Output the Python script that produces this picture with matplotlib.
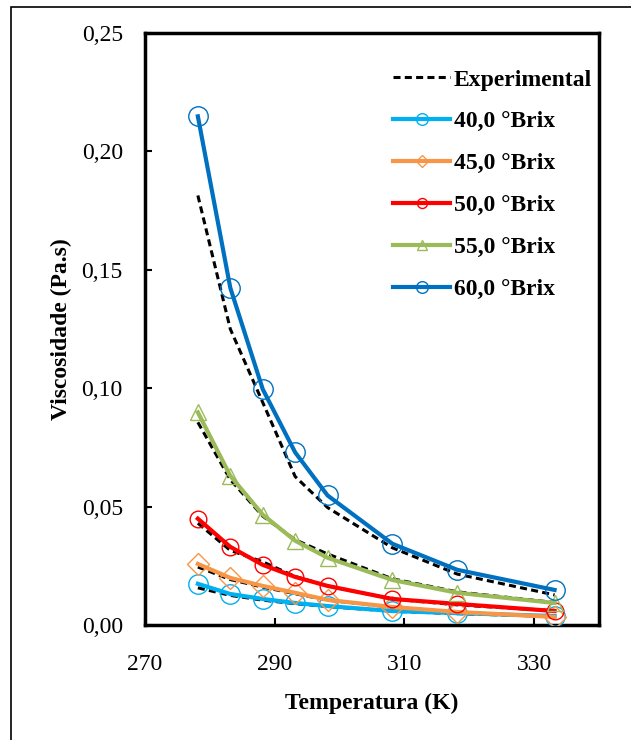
import matplotlib
matplotlib.use("Agg")
import matplotlib.pyplot as plt
import matplotlib.patches as patches

# temperaturas (K)
temperatura = [278.15, 283.15, 288.15, 293.15, 298.15, 308.15, 318.15, 333.15]

# viscosidade calculada (Pa.s) por concentração
brix_40 = [0.0174, 0.0131, 0.0110, 0.0093, 0.0080, 0.0059, 0.0050, 0.0038]
brix_45 = [0.0258, 0.0199, 0.0165, 0.0136, 0.0106, 0.0076, 0.0055, 0.0034]
brix_50 = [0.0449, 0.0330, 0.0254, 0.0203, 0.0165, 0.0110, 0.0089, 0.0059]
brix_55 = [0.0898, 0.0630, 0.0466, 0.0356, 0.0284, 0.0190, 0.0136, 0.0093]
brix_60 = [0.2148, 0.1424, 0.0996, 0.0729, 0.0547, 0.0343, 0.0233, 0.0148]

# viscosidade experimental (linhas tracejadas)
exp_40 = [0.0157, 0.0125, 0.0105, 0.0090, 0.0078, 0.0058, 0.0048, 0.0036]
exp_45 = [0.0245, 0.0192, 0.0160, 0.0132, 0.0105, 0.0075, 0.0054, 0.0035]
exp_50 = [0.0430, 0.0315, 0.0267, 0.0205, 0.0165, 0.0110, 0.0085, 0.0060]
exp_55 = [0.0856, 0.0614, 0.0460, 0.0360, 0.0300, 0.0195, 0.0140, 0.0095]
exp_60 = [0.1814, 0.1250, 0.0940, 0.0627, 0.0496, 0.0326, 0.0215, 0.0127]

rotulos = ["40,0 °Brix", "45,0 °Brix", "50,0 °Brix", "55,0 °Brix", "60,0 °Brix"]
cores = ["#00B0F0", "#F79646", "#FF0000", "#9BBB59", "#0070C0"]
marcadores = ["o", "D", "o", "^", "o"]
tamanhos = [14, 11, 12, 12, 14]

plt.rcParams["font.family"] = ["Liberation Serif", "DejaVu Serif"]

fig = plt.figure(figsize=(6.31, 7.4), dpi=100)
ax = fig.add_axes([0.2298, 0.1554, 0.7195, 0.8000])

# moldura externa
fig.patches.append(patches.Rectangle((11 / 631, -0.1), 1.2, 1 - 7 / 740 + 0.1,
                                     transform=fig.transFigure, fill=False,
                                     edgecolor="black", linewidth=1.2))

# experimental
for i, serie in enumerate([exp_40, exp_45, exp_50, exp_55, exp_60]):
    ax.plot(temperatura, serie, color="black", linestyle=(0, (2.3, 1.4)), linewidth=2.2,
            zorder=2, label="Experimental" if i == 0 else None)

# modelo
for serie, rot, cor, mk, ms in zip([brix_40, brix_45, brix_50, brix_55, brix_60],
                                   rotulos, cores, marcadores, tamanhos):
    ax.plot(temperatura, serie, color=cor, linewidth=3, marker=mk, markersize=ms,
            markerfacecolor="none", markeredgecolor=cor, markeredgewidth=1.0,
            label=rot, zorder=3)

ax.set_xlim(270, 340)
ax.set_ylim(0, 0.25)
ax.set_xticks([270, 290, 310, 330])
ax.set_yticks([0, 0.05, 0.10, 0.15, 0.20, 0.25])
ax.set_yticklabels(["0,00", "0,05", "0,10", "0,15", "0,20", "0,25"])
ax.tick_params(axis="both", direction="in", length=5, width=1.5, labelsize=17)
ax.tick_params(axis="x", pad=21)
ax.tick_params(axis="y", pad=16)
for s in ax.spines.values():
    s.set_linewidth(2.5)

ax.set_xlabel("Temperatura (K)", fontsize=17, fontweight="bold", labelpad=13)
ax.set_ylabel("Viscosidade (Pa.s)", fontsize=17, fontweight="bold", labelpad=7)

leg = ax.legend(loc="upper right", frameon=False, fontsize=17, handlelength=2.4,
                handletextpad=0.15, labelspacing=0.86, markerscale=0.6,
                borderaxespad=0.0, bbox_to_anchor=(1.005, 0.955))
for t in leg.get_texts():
    t.set_fontweight("bold")

fig.savefig("out.png", dpi=100)
